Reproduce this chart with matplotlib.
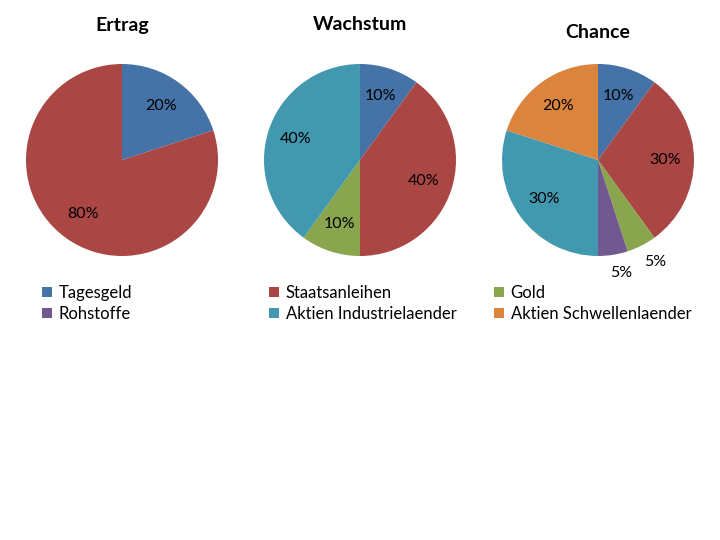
import matplotlib.pyplot as plt
from matplotlib.patches import Patch

plt.rcParams["font.family"] = ["Lato", "DejaVu Sans"]

categories = ["Tagesgeld", "Staatsanleihen", "Gold", "Rohstoffe",
              "Aktien Industrielaender", "Aktien Schwellenlaender"]
colors = ["#4572A7", "#AA4643", "#89A54E", "#71588F", "#4198AF", "#DB843D"]

titles = ["Ertrag", "Wachstum", "Chance"]
ertrag = [20, 80, 0, 0, 0, 0]
wachstum = [10, 40, 10, 0, 40, 0]
chance = [10, 30, 5, 5, 30, 20]
portfolios = [ertrag, wachstum, chance]

W, H = 720, 540
fig = plt.figure(figsize=(W / 100, H / 100), dpi=100)

centers_x = [122, 360, 598]
center_y = 160
r = 96
title_y = [25, 25, 33]

for cx, ty, title, values in zip(centers_x, title_y, titles, portfolios):
    ax = fig.add_axes([(cx - r) / W, 1 - (center_y + r) / H, 2 * r / W, 2 * r / H])
    vals = [v for v in values if v > 0]
    cols = [c for v, c in zip(values, colors) if v > 0]
    wedges, texts, autotexts = ax.pie(
        vals,
        colors=cols,
        startangle=90,
        counterclock=False,
        autopct="%d%%",
        pctdistance=0.7,
        radius=1,
        wedgeprops=dict(linewidth=0),
        textprops=dict(fontsize=11.5, color="black"),
    )
    # small slices get their labels outside
    for i, (w, t) in enumerate(zip(wedges, autotexts)):
        if vals[i] <= 5:
            x, y = t.get_position()
            d = (x ** 2 + y ** 2) ** 0.5
            t.set_position((x / d * 1.17 + 0.06, y / d * 1.17 - 0.02))
    ax.set_xlim(-1, 1)
    ax.set_ylim(-1, 1)
    ax.set_aspect("equal")
    ax.axis("off")
    fig.text(cx / W, 1 - ty / H, title, ha="center", va="center",
             fontsize=14, fontweight="bold")

# legend: three columns, two rows
legend_cols = [[0, 3], [1, 4], [2, 5]]
legend_x = [42, 269, 494]
for lx, idx in zip(legend_x, legend_cols):
    handles = [Patch(facecolor=colors[i], label=categories[i]) for i in idx]
    fig.legend(handles=handles, loc="upper left",
               bbox_to_anchor=(lx / W, 1 - 285 / H),
               frameon=False, fontsize=12, handlelength=0.6,
               handleheight=0.6, handletextpad=0.4, labelspacing=0.3,
               borderpad=0, borderaxespad=0)

fig.savefig("out.png", dpi=100)
